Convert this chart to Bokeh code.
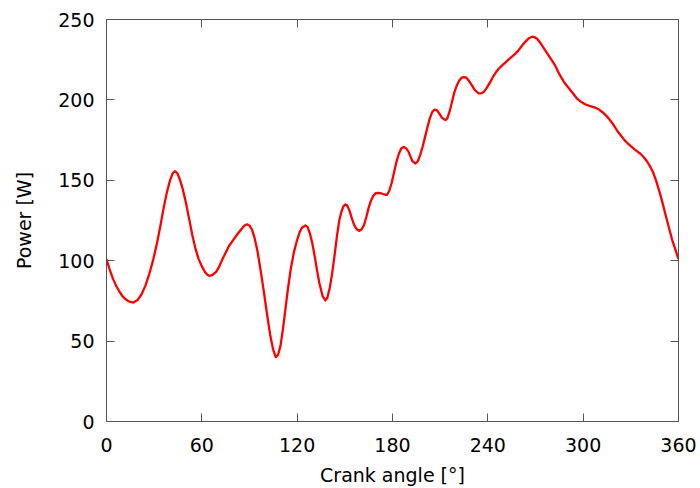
from bokeh.plotting import figure
from bokeh.models import LinearAxis, FixedTicker, CustomJSTickFormatter, Range1d
from bokeh.embed import file_html
from bokeh.resources import INLINE

angle = [0, 2, 4, 6, 8, 10, 12, 14.5, 17, 19.5, 22, 24.5, 27, 29.5, 32, 34, 36, 38, 40, 41.5,
         43, 44.5, 46, 48, 50, 52, 54, 56, 58, 60, 62, 63.5, 65, 67, 69, 71, 73, 75, 77, 79.5,
         82, 84, 86, 87.5, 88.7, 90, 91.5, 93, 95, 97, 99, 101, 103, 104.8, 106.5, 108, 109.5,
         111, 112.5, 114, 116, 118, 120, 121.5, 123, 125.2, 126.5, 128, 129.5, 131, 132.5, 134,
         136, 137.8, 139, 140.5, 142, 143.5, 145, 146.5, 148, 149.2, 150.4, 151.5, 153, 154.5,
         156, 157.5, 159.2, 160.5, 162, 163.5, 165, 166.5, 168, 169.5, 171, 172.5, 174, 175.5,
         176.6, 178, 179.5, 181, 182.5, 184, 185.5, 187, 188.5, 190, 191, 192.5, 194.5, 196,
         197.5, 199, 200.5, 202, 203.5, 205, 206.5, 208, 209.5, 211, 213.3, 214.5, 216, 217.5,
         219, 220.5, 222, 223.5, 225, 226.5, 228, 230, 231.5, 233, 234.5, 236, 237.5, 239,
         241.5, 243, 245, 247, 249, 251, 253, 255, 257, 259, 261, 263, 264.5, 266, 268, 269.5,
         271, 272.5, 274, 276, 278, 280, 282, 283.5, 285, 286.5, 288, 290, 292, 294, 296, 298,
         300, 302, 304, 306, 308, 310, 312, 314, 316, 318, 320, 322, 324, 326, 328, 330, 332,
         334, 336, 338, 340, 342, 344, 346, 348, 350, 352, 354, 356, 358, 360]
power = [101, 94.5, 89, 84.5, 81, 78, 76, 74.5, 74, 75.5, 79, 84.5, 92, 101, 112, 122, 133, 142.5, 150, 154,
         155.7, 154.5, 151, 144.5, 136, 126, 116, 107.5, 101, 96.5, 93, 91.3, 90.5, 91.3, 93, 96.5, 101, 105, 109, 112.5,
         116, 118.5, 121, 122.3, 122.6, 121.8, 119.5, 115, 106, 94, 81, 67, 54, 45, 40, 41.5, 47,
         57, 69, 81, 95, 105.5, 113, 117.5, 120.5, 122, 121, 117, 111, 103, 94, 86,
         78, 75.3, 77, 83, 92, 103, 115, 125, 131, 134, 135, 134.3, 131, 126,
         122, 119.5, 118.5, 119.5, 122, 127, 133, 137.5, 140.5, 142, 142.2, 142, 141.5, 141,
         141, 143.5, 148.5, 155, 161.5, 166.5, 169.8, 170.8, 170, 168, 165.5, 162, 160.4, 162,
         166, 171, 177, 183, 188.5, 192.5, 194, 193.5, 191.5, 189, 187.4, 188.5, 193, 199,
         205, 209, 212, 213.8, 214.2, 213.8, 212, 209, 206.5, 205, 204, 204.2, 205, 207,
         211, 214, 217, 219.5, 221.5, 223.2, 225, 226.8, 228.5, 230.5, 233, 235.5, 237, 238.5, 239.3, 239,
         238, 236.2, 234, 231, 228, 225, 222, 219, 216, 213.5, 211, 208.5, 206, 203.5, 201, 199.3,
         198, 197, 196.3, 195.7, 195, 194, 192.5, 190.7, 188.5, 186, 183, 180, 177.5, 175, 173, 171.3, 169.5,
         168, 166.5, 164.5, 162, 158.8, 155, 149.5, 143, 135.8, 128, 120.5, 113, 107, 101]

x_ticks = [0, 60, 120, 180, 240, 300, 360]
y_ticks = [0, 50, 100, 150, 200, 250]

AX = "#555555"
FONT = "DejaVu Sans"

p = figure(width=700, height=488, output_backend="svg", toolbar_location=None,
           x_range=Range1d(0, 360), y_range=Range1d(0, 250),
           min_border_left=106, min_border_right=22, min_border_top=19, min_border_bottom=67)
p.xgrid.visible = False
p.ygrid.visible = False
p.outline_line_color = AX
p.background_fill_color = "white"
p.border_fill_color = "white"

p.line(angle, power, line_color="#ff0000", line_width=2.3, line_join="round")

def style(ax, ticks):
    ax.ticker = FixedTicker(ticks=ticks)
    ax.axis_line_color = AX
    ax.major_tick_line_color = AX
    ax.major_tick_in = 8
    ax.major_tick_out = 0
    ax.minor_tick_line_color = None
    ax.major_label_text_font = FONT
    ax.major_label_text_font_size = "19px"
    ax.major_label_text_color = "#000000"
    ax.axis_label_text_font = FONT
    ax.axis_label_text_font_size = "19px"
    ax.axis_label_text_font_style = "normal"
    ax.axis_label_text_color = "#000000"

style(p.xaxis[0], x_ticks)
style(p.yaxis[0], y_ticks)
p.xaxis[0].axis_label = "Crank angle [°]"
p.yaxis[0].axis_label = "Power [W]"
p.xaxis[0].major_label_standoff = 16
p.xaxis[0].axis_label_standoff = 9
p.yaxis[0].major_label_standoff = 12
p.yaxis[0].axis_label_standoff = 20

empty = CustomJSTickFormatter(code="return ''")
top = LinearAxis(formatter=empty, major_label_standoff=0)
style(top, x_ticks)
p.add_layout(top, "above")
right = LinearAxis(formatter=empty, major_label_standoff=0)
style(right, y_ticks)
p.add_layout(right, "right")

open("out.html", "w").write(file_html(p, INLINE))
